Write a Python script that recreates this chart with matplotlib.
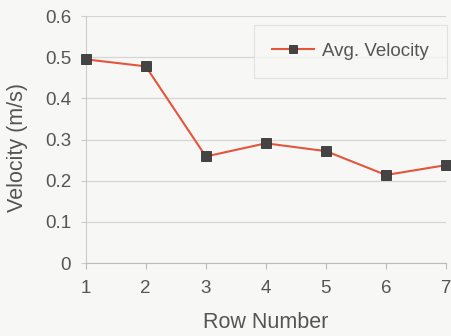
import matplotlib
matplotlib.use("Agg")
import matplotlib.pyplot as plt

rows = [1, 2, 3, 4, 5, 6, 7]
avg_velocity = [0.495, 0.478, 0.259, 0.291, 0.272, 0.214, 0.238]
y_ticks = [0, 0.1, 0.2, 0.3, 0.4, 0.5, 0.6]
y_tick_labels = ["0", "0.1", "0.2", "0.3", "0.4", "0.5", "0.6"]

plt.rcParams["font.family"] = ["Liberation Sans", "DejaVu Sans"]
text_color = "#555555"
bg = "#f7f7f5"

fig = plt.figure(figsize=(4.51, 3.36), dpi=100, facecolor=bg)
ax = fig.add_axes([0.19, 0.217, 0.799, 0.735], facecolor=bg)

ax.plot(rows, avg_velocity, color="#e4553e", lw=1.5, marker="s",
        markersize=7.5, markerfacecolor="#444444", markeredgecolor="#333333",
        markeredgewidth=0.6, label="Avg. Velocity", zorder=3, clip_on=False)

ax.set_xlim(1, 7)
ax.set_ylim(0, 0.6)
ax.set_xticks(rows)
ax.set_yticks(y_ticks)
ax.set_yticklabels(y_tick_labels)
ax.grid(axis="y", color="#d6d6d6", lw=0.9)
ax.set_axisbelow(True)

for s in ["top", "right"]:
    ax.spines[s].set_visible(False)
ax.spines["left"].set_color("#cccccc")
ax.spines["bottom"].set_color("#bbbbbb")
ax.tick_params(axis="y", length=3.5, color="#cccccc", labelsize=13.5,
               labelcolor=text_color, pad=7)
ax.tick_params(axis="x", length=4, color="#bbbbbb", labelsize=13.5,
               labelcolor=text_color, pad=8)

ax.set_xlabel("Row Number", fontsize=15.5, color=text_color, labelpad=4)
ax.set_ylabel("Velocity (m/s)", fontsize=15.5, color=text_color, labelpad=4)
ax.yaxis.set_label_coords(18 / 451, 0.5, transform=fig.transFigure)
ax.xaxis.set_label_coords(0.5, 1 - 322 / 336, transform=fig.transFigure)
ax.yaxis.label.set_verticalalignment("center")
ax.xaxis.label.set_verticalalignment("center")
ax.yaxis.label.set_position((18 / 451, 0.5 * (1 - 79 / 336 + 1 - 215 / 336)))
ax.xaxis.label.set_position((0.5 * (200 + 331) / 451, 1 - 322 / 336))

leg = ax.legend(loc="upper left", bbox_to_anchor=(254 / 451, 1 - 25 / 336),
                bbox_transform=fig.transFigure, borderaxespad=0,
                fontsize=13.5, frameon=True, fancybox=False,
                handlelength=2.25, handletextpad=0.45, borderpad=0.95,
                markerscale=0.72, labelcolor=text_color)
leg.get_frame().set_edgecolor("#dddddd")
leg.get_frame().set_facecolor(bg)
leg.get_frame().set_linewidth(0.8)

fig.savefig("out.png", dpi=100, facecolor=bg)
